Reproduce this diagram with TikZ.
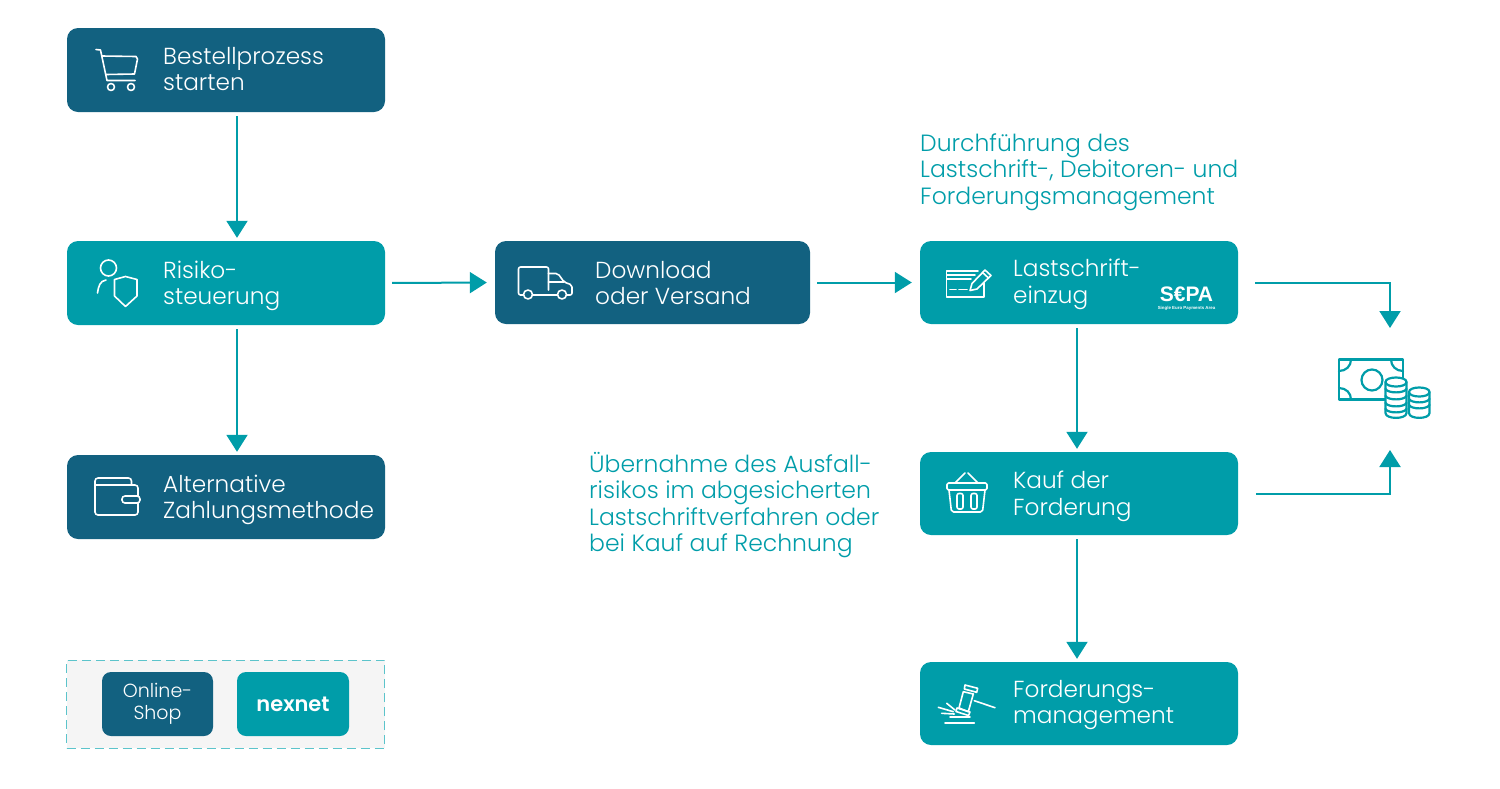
\documentclass[tikz,border=0pt]{standalone}
\usepackage{fontspec}
\setmainfont{Poppins}[UprightFont=* Light,BoldFont=* SemiBold]
\newfontfamily\sepafont{Liberation Sans}[Scale=1]
\usetikzlibrary{arrows.meta}
\definecolor{darkblue}{HTML}{126180}
\definecolor{teal}{HTML}{009DA9}
\definecolor{legendgray}{HTML}{F5F5F5}
\definecolor{legendline}{HTML}{5CC4CB}
\tikzset{
  box/.style = {shape=rectangle, rounded corners=11pt, minimum width=318pt, minimum height=84pt, inner sep=0pt},
  darkbox/.style = {box, fill=darkblue},
  tealbox/.style = {box, fill=teal},
  boxtext/.style = {anchor=west, align=left, inner sep=0pt, text=white, font=\fontsize{23.2}{26.5}\selectfont},
  caption/.style = {anchor=north west, align=left, inner sep=0pt, text=teal, font=\fontsize{23.5}{26.5}\selectfont},
  flow/.style = {draw=teal, line width=2pt, -{Triangle[width=21pt,length=17pt]}, shorten <=4pt, shorten >=3pt},
  icon/.style = {draw=white, line width=1.6pt, line join=round, line cap=round},
  moneyicon/.style = {draw=teal, line width=2.2pt, line join=round, line cap=round}
}
\begin{document}
\begin{tikzpicture}[x=1pt,y=-1pt]
    \useasboundingbox (0,0) rectangle (1500,788);
    \node[darkbox] (start) at (226,70) {};
    \node[tealbox] (risk) at (226,283) {};
    \node[darkbox] (alt) at (226,497) {};
    \node[darkbox, minimum width=315pt, minimum height=83pt] (download) at (652.5,282.5) {};
    \node[tealbox, minimum height=83pt] (debit) at (1079,282.5) {};
    \node[tealbox, minimum height=83pt] (buy) at (1079,493.5) {};
    \node[tealbox, minimum height=83pt] (collect) at (1079,703.5) {};
    \node[boxtext] (starttext) at (163,69) {Bestellprozess\\starten};
    \node[boxtext] (risktext) at (163,286) {Risiko-\\steuerung};
    \node[boxtext] (alttext) at (163,500) {Alternative\\Zahlungsmethode};
    \node[boxtext] (downloadtext) at (595,283) {Download\\oder Versand};
    \node[boxtext] (debittext) at (1013,284.5) {Lastschrift-\\einzug};
    \node[boxtext] (buytext) at (1013,496.5) {Kauf der\\Forderung};
    \node[boxtext] (collecttext) at (1013,705) {Forderungs-\\management};
    \node[caption] (debitnote) at (920,133.5) {Durchführung des\\Lastschrift-, Debitoren- und\\Forderungsmanagement};
    \node[caption] (buynote) at (589,452) {Übernahme des Ausfall-\\risikos im abgesicherten\\Lastschriftverfahren oder\\bei Kauf auf Rechnung};
    \node[anchor=center, inner sep=0pt, align=center, text=white, font=\sepafont\bfseries] (sepa) at (1186.5,298.5) {\fontsize{21}{5}\selectfont S€PA\\[-4pt]\fontsize{4.4}{5}\selectfont Single Euro Payments Area};
    \coordinate (moneytop) at (1390,328);
    \coordinate (moneybot) at (1390,450);
    \draw[flow] ([xshift=11pt]start.south) -- ([xshift=11pt]risk.north);
    \draw[flow] ([xshift=11pt]risk.south) -- ([xshift=11pt]alt.north);
    \draw[flow, shorten <=7pt, shorten >=8pt] (risk.east) -- (download.west);
    \draw[flow, shorten <=7pt, shorten >=8pt] (download.east) -- (debit.west);
    \draw[flow] ([xshift=-2pt]debit.south) -- ([xshift=-2pt]buy.north);
    \draw[flow] ([xshift=-2pt]buy.south) -- ([xshift=-2pt]collect.north);
    \draw[flow, shorten <=17pt, shorten >=0pt] (debit.east) -| (moneytop);
    \draw[flow, shorten <=18pt, shorten >=0pt] (buy.east) -| (moneybot);
    \begin{scope}
      \node[shape=rectangle, draw=legendline, fill=legendgray, dashed, dash pattern=on 9pt off 5pt, line width=1pt, minimum width=318pt, minimum height=88pt, inner sep=0pt] (legend) at (225.5,704) {};
      \node[shape=rectangle, rounded corners=9pt, fill=darkblue, minimum width=111pt, minimum height=64pt, inner sep=0pt, align=center, text=white, font=\fontsize{19}{22}\selectfont] (shop) at (157.5,704) {Online-\\Shop};
      \node[shape=rectangle, rounded corners=9pt, fill=teal, minimum width=112pt, minimum height=64pt, inner sep=0pt, text=white, font=\bfseries\fontsize{21}{22}\selectfont] (nexnet) at (293,704) {nexnet};
    \end{scope}
    \begin{scope}[every path/.style={icon}]
      \draw (96,49.5) -- (100.5,50) -- (107,80.5) -- (135,80.5);
      \draw (102,56) -- (136,56.5) -- (137.5,59) -- (134.5,74) -- (106,74.5);
      \draw (111,87) circle [radius=3.5] (131,87) circle [radius=3.5];
    \end{scope}
    \begin{scope}[every path/.style={icon}]
      \draw (108.5,268) circle [radius=8];
      \draw (97.5,293) .. controls (98.5,286) and (100,281) .. (106,280);
      \draw (114.5,279.5) -- (125.5,276.5) -- (137,279.5) -- (137,296) -- (125.5,306.5) -- (114.5,296) -- cycle;
    \end{scope}
    \begin{scope}[every path/.style={icon}]
      \draw[rounded corners=3pt] (131.5,485) -- (131.5,478) -- (95,478) -- (95,515) -- (138,515) -- (138,485) -- (95,485);
      \draw[rounded corners=3pt, fill=darkblue] (122,496) rectangle (140,503);
    \end{scope}
    \begin{scope}[every path/.style={icon}]
      \draw[rounded corners=2pt] (523.5,295) -- (518.5,295) -- (518.5,267) -- (548.5,267) -- (548.5,290);
      \draw (532.5,295) -- (557.5,295);
      \draw[rounded corners=2pt] (548.5,273.5) -- (558,273.5) -- (564,282) -- (572,285) -- (572,295) -- (567,295);
      \draw (548.5,282) -- (564,282);
      \draw (528,294.5) circle [radius=4.5] (562,294.5) circle [radius=4.5];
    \end{scope}
    \begin{scope}[every path/.style={icon}]
      \draw (978,271) -- (946.5,271) -- (946.5,297) -- (984,297) -- (984,283);
      \draw (947,275) -- (975,275) (947,279) -- (971,279);
      \draw (950,289.5) -- (956,289.5) (959,289.5) -- (967,289.5);
      \draw (970,290.5) -- (972,283.5) -- (985,270) -- (991,275.5) -- (977,289) -- cycle;
      \draw (982.5,272.5) -- (988.5,278);
    \end{scope}
    \begin{scope}[every path/.style={icon}]
      \draw[rounded corners=1.5pt] (947,483) rectangle (987,490);
      \draw (955,483) -- (965,473) (968,473) -- (978,483);
      \draw[rounded corners=2pt] (949,490) -- (951.5,512) -- (982.5,512) -- (985,490);
      \draw[rounded corners=2pt] (957,493.5) rectangle (963,509) (971,493.5) rectangle (977,509);
    \end{scope}
    \begin{scope}[every path/.style={icon}]
      \draw (963.3,691.7) -- (973.3,694) -- (968.3,711.7) -- (959,708) -- cycle;
      \draw (965,685) -- (977.7,688.3) -- (976.7,692.3) -- (964.3,689) -- cycle;
      \draw (957,708) -- (970,712) -- (968.5,715.5) -- (956,711.5) -- cycle;
      \draw (974.3,700.7) -- (995,707.7);
      \draw (950,716.7) -- (970,716.7) (945,722.7) -- (974.3,722.7);
      \draw (938.3,707.3) -- (953.3,711.7) (941.7,713.3) -- (954.3,714) (946.7,703.3) -- (955,710);
    \end{scope}
    \begin{scope}[every path/.style={moneyicon}]
      \draw (1403,378) -- (1403,359.5) -- (1339,359.5) -- (1339,399.5) -- (1385,399.5);
      \draw (1372,380) circle [radius=10.5];
      \draw (1339,371) .. controls (1346,371) and (1351,366) .. (1351,359.5);
      \draw (1391,359.5) .. controls (1391,366) and (1396,371) .. (1403,371);
      \draw (1339,388) .. controls (1346,388) and (1351,393) .. (1351,399.5);
      \draw[fill=white] (1385.5,382) .. controls (1385.5,376) and (1406.5,376) .. (1406.5,382) -- (1406.5,413) .. controls (1406.5,419.5) and (1385.5,419.5) .. (1385.5,413) -- cycle;
      \draw (1385.5,382) .. controls (1385.5,388) and (1406.5,388) .. (1406.5,382);
      \foreach \coiny in {389,396,403,409} {
        \draw (1385.5,\coiny) .. controls (1388,\coiny+4.5) and (1404,\coiny+4.5) .. (1406.5,\coiny);
      }
      \draw (1409,392) .. controls (1409,386) and (1429.5,386) .. (1429.5,392) -- (1429.5,413) .. controls (1429.5,419.5) and (1409,419.5) .. (1409,413) -- cycle;
      \draw (1409,392) .. controls (1409,398) and (1429.5,398) .. (1429.5,392);
      \foreach \coiny in {399,405} {
        \draw (1409,\coiny) .. controls (1411.5,\coiny+4.5) and (1427,\coiny+4.5) .. (1429.5,\coiny);
      }
    \end{scope}
\end{tikzpicture}
\end{document}
